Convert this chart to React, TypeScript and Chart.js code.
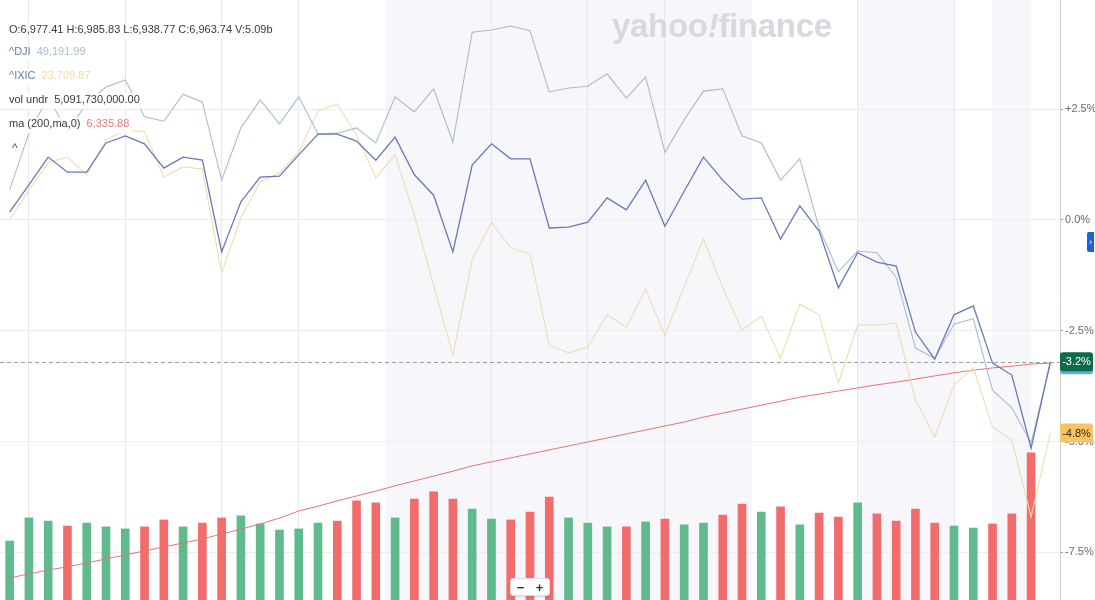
import React, { useEffect, useRef } from 'react';
import { Chart, registerables } from 'chart.js';

Chart.register(...registerables);

// 55 sessions (index-based categories)
const categories: string[] = Array.from({ length: 55 }, (_, i) => `P${i + 1}`);

// % change series
const spx = [0.18, 0.79, 1.42, 1.08, 1.08, 1.74, 1.90, 1.72, 1.17, 1.42, 1.35, -0.72, 0.41, 0.97, 0.99, 1.47, 1.94, 1.94, 1.78, 1.35, 1.87, 1.02, 0.56, -0.72, 1.24, 1.72, 1.38, 1.38, -0.18, -0.16, -0.05, 0.50, 0.23, 0.90, -0.14, 0.65, 1.42, 0.90, 0.47, 0.50, -0.43, 0.32, -0.25, -1.53, -0.74, -0.95, -1.04, -2.53, -3.14, -2.14, -1.94, -3.23, -3.50, -5.15, -3.20];
const dji = [0.68, 1.96, 2.78, 1.99, 2.64, 3.00, 3.16, 2.33, 2.23, 2.84, 2.66, 0.90, 2.08, 2.71, 2.17, 2.78, 1.94, 1.96, 2.08, 1.74, 2.78, 2.44, 2.96, 1.76, 4.24, 4.29, 4.38, 4.27, 2.89, 2.98, 3.02, 3.30, 2.75, 3.23, 1.53, 2.26, 2.91, 2.96, 1.90, 1.74, 0.90, 1.38, -0.18, -1.17, -0.70, -0.74, -1.29, -2.89, -3.12, -2.35, -2.23, -3.84, -4.24, -5.03, -3.23];
const ixic = [0.00, 0.68, 1.29, 1.42, 1.02, 1.81, 2.03, 1.99, 0.97, 1.20, 1.15, -1.20, 0.05, 0.86, 1.06, 1.53, 2.46, 2.62, 1.92, 0.95, 1.47, 0.11, -1.47, -3.05, -0.90, -0.05, -0.63, -0.77, -2.82, -3.00, -2.87, -2.14, -2.42, -1.56, -2.60, -1.51, -0.43, -1.53, -2.48, -2.17, -3.12, -1.90, -2.14, -3.68, -2.37, -2.37, -2.33, -4.06, -4.90, -3.72, -3.34, -4.67, -4.97, -6.70, -4.81];
const ma200 = [-8.08, -7.99, -7.90, -7.83, -7.74, -7.65, -7.56, -7.47, -7.38, -7.29, -7.20, -7.09, -6.98, -6.86, -6.73, -6.57, -6.46, -6.34, -6.23, -6.12, -6.00, -5.89, -5.78, -5.67, -5.55, -5.46, -5.37, -5.28, -5.19, -5.10, -5.01, -4.92, -4.83, -4.74, -4.65, -4.56, -4.45, -4.36, -4.27, -4.18, -4.09, -4.00, -3.93, -3.86, -3.79, -3.72, -3.66, -3.59, -3.52, -3.45, -3.39, -3.34, -3.30, -3.25, -3.23];

// volume (billions) and bar direction
const volume = [2.04, 2.84, 2.73, 2.56, 2.66, 2.53, 2.46, 2.53, 2.77, 2.53, 2.66, 2.84, 2.91, 2.63, 2.42, 2.46, 2.66, 2.73, 3.43, 3.36, 2.84, 3.49, 3.74, 3.49, 3.15, 2.80, 2.77, 3.04, 3.56, 2.84, 2.66, 2.53, 2.53, 2.70, 2.80, 2.60, 2.66, 2.94, 3.32, 3.04, 3.22, 2.60, 3.01, 2.87, 3.36, 2.98, 2.73, 3.15, 2.66, 2.56, 2.49, 2.63, 2.98, 5.09, null];
const volDir = ['up', 'up', 'up', 'down', 'up', 'up', 'up', 'down', 'down', 'up', 'down', 'down', 'up', 'up', 'up', 'up', 'up', 'down', 'down', 'down', 'up', 'down', 'down', 'down', 'up', 'up', 'down', 'down', 'down', 'up', 'up', 'up', 'down', 'up', 'down', 'up', 'up', 'down', 'down', 'up', 'down', 'up', 'down', 'down', 'up', 'down', 'down', 'down', 'down', 'up', 'up', 'down', 'down', 'down', 'up'];

// axis ticks, vertical gridline positions, shaded sessions
const pctTicks = [2.5, 0, -2.5, -5, -7.5];
const vGridIdx = [1, 6, 11, 15, 25, 30, 34, 44, 49];
const bands: [number, number][] = [[19.5, 38.5], [44, 49], [51, 53]];

const FONT = '"Liberation Sans", Arial, sans-serif';

const fmtPct = (v: number) => (v > 0 ? '+' : '') + v.toFixed(1) + '%';

const bandPlugin = {
  id: 'bands',
  beforeDraw(chart: any) {
    const { ctx, chartArea, scales } = chart;
    const x = scales.x;
    ctx.save();
    ctx.fillStyle = 'rgba(238,238,248,0.55)';
    bands.forEach(([a, b]) => {
      const x1 = x.getPixelForValue(a);
      const x2 = x.getPixelForValue(b);
      ctx.fillRect(x1, chartArea.top, x2 - x1, chartArea.bottom - chartArea.top);
    });
    ctx.restore();
  },
  beforeDatasetsDraw(chart: any) {
    const { ctx, chartArea, scales } = chart;
    const y = Math.round(scales.y.getPixelForValue(spx[spx.length - 1])) + 0.5;
    ctx.save();
    ctx.strokeStyle = '#9c9c9c';
    ctx.lineWidth = 1;
    ctx.setLineDash([4, 3]);
    ctx.beginPath();
    ctx.moveTo(chartArea.left, y);
    ctx.lineTo(chartArea.right, y);
    ctx.stroke();
    ctx.restore();
  },
  afterDraw(chart: any) {
    const { ctx, chartArea, scales } = chart;
    const badge = (v: number, bg: string, fg: string, strip?: string) => {
      const y = scales.y.getPixelForValue(v);
      const x0 = chartArea.right;
      const w = 33, h = 19;
      ctx.save();
      if (strip) {
        ctx.fillStyle = strip;
        ctx.beginPath();
        ctx.roundRect(x0, y - h / 2 + 3, w, h, 3);
        ctx.fill();
      }
      ctx.fillStyle = bg;
      ctx.beginPath();
      ctx.roundRect(x0, y - h / 2, w, h, 3);
      ctx.fill();
      ctx.fillStyle = fg;
      ctx.font = `11px ${FONT}`;
      ctx.textAlign = 'center';
      ctx.textBaseline = 'middle';
      ctx.fillText(fmtPct(v), x0 + w / 2, y + 0.5);
      ctx.restore();
    };
    badge(ixic[ixic.length - 1], '#f6c464', '#3b2c05');
    badge(spx[spx.length - 1], '#0d6a4d', '#ffffff', '#6aa8cf');
  },
};

const rowStyle = (top: number): React.CSSProperties => ({
  position: 'absolute',
  left: 6,
  top,
  height: 16,
  lineHeight: '16px',
  padding: '0 3px',
  background: 'rgba(255,255,255,0.86)',
  font: `11px ${FONT}`,
  color: '#3a3a3a',
  whiteSpace: 'nowrap',
});

export default function App() {
  const ref = useRef<HTMLCanvasElement>(null);
  useEffect(() => {
    document.body.style.margin = '0';
    const chart = new Chart(ref.current as HTMLCanvasElement, {
      type: 'bar',
      data: {
        labels: categories,
        datasets: [
          { type: 'line', label: '^GSPC', data: spx, borderColor: '#6878bb', borderWidth: 1.3, pointRadius: 0, tension: 0, yAxisID: 'y', order: 1 } as any,
          { type: 'line', label: '^DJI', data: dji, borderColor: '#a8bcd2', borderWidth: 1.1, pointRadius: 0, tension: 0, yAxisID: 'y', order: 2 } as any,
          { type: 'line', label: '^IXIC', data: ixic, borderColor: '#f0dcb2', borderWidth: 1.1, pointRadius: 0, tension: 0, yAxisID: 'y', order: 3 } as any,
          { type: 'line', label: 'ma (200,ma,0)', data: ma200, borderColor: '#e97373', borderWidth: 1, pointRadius: 0, tension: 0, yAxisID: 'y', order: 4 } as any,
          {
            type: 'bar', label: 'vol undr', data: volume,
            backgroundColor: volDir.map((d) => (d === 'up' ? '#5fbb8d' : '#f26c6c')),
            barThickness: 8, yAxisID: 'yv', order: 10,
          } as any,
        ],
      },
      options: {
        animation: false,
        responsive: true,
        maintainAspectRatio: false,
        layout: { padding: 0, autoPadding: false } as any,
        plugins: { legend: { display: false }, tooltip: { enabled: false } },
        scales: {
          x: {
            offset: true,
            grid: {
              offset: false,
              drawTicks: false,
              color: (c: any) => (vGridIdx.includes(c.index) ? '#e6e6ee' : 'rgba(0,0,0,0)'),
            },
            ticks: { display: false, autoSkip: false },
            border: { display: false },
          },
          y: {
            position: 'right',
            min: -8.578,
            max: 4.966,
            afterBuildTicks: (s: any) => { s.ticks = pctTicks.map((v) => ({ value: v })); },
            ticks: {
              callback: (v: any) => fmtPct(Number(v)),
              color: '#6a6a6a',
              font: { size: 11, family: FONT },
              padding: 2,
              autoSkip: false,
            },
            grid: { color: '#ededed', tickColor: '#9a9a9a', tickLength: 3 },
            border: { color: '#cdcdcd' },
            afterFit: (s: any) => { s.width = 35; s.paddingTop = 0; s.paddingBottom = 0; },
          },
          yv: { display: false, min: 0, max: 20.76 },
        },
      } as any,
      plugins: [bandPlugin],
    });
    return () => chart.destroy();
  }, []);

  return (
    <div style={{ position: 'fixed', left: 0, top: 0, width: 1095, height: 600, background: '#fff', overflow: 'hidden' }}>
      <canvas ref={ref} />
      <div style={{ position: 'absolute', left: 612, top: 7, font: `bold 33px ${FONT}`, color: '#d8d8df', letterSpacing: '-0.3px', pointerEvents: 'none' }}>
        yahoo<span style={{ fontStyle: 'italic' }}>!</span>finance
      </div>
      <div style={rowStyle(23)}>
        <span style={{ marginRight: 3 }}>O:6,977.41</span>
        <span style={{ marginRight: 3 }}>H:6,985.83</span>
        <span style={{ marginRight: 3 }}>L:6,938.77</span>
        <span style={{ marginRight: 3 }}>C:6,963.74</span>
        <span>V:5.09b</span>
      </div>
      <div style={rowStyle(45)}>
        <span style={{ color: '#6a79ad', marginRight: 6 }}>^DJI</span>
        <span style={{ color: '#a9bed4' }}>49,191.99</span>
      </div>
      <div style={rowStyle(69)}>
        <span style={{ color: '#6a79ad', marginRight: 6 }}>^IXIC</span>
        <span style={{ color: '#f2d9a8' }}>23,709.87</span>
      </div>
      <div style={rowStyle(93)}>
        <span style={{ marginRight: 6 }}>vol undr</span>
        <span>5,091,730,000.00</span>
      </div>
      <div style={rowStyle(117)}>
        <span style={{ marginRight: 6 }}>ma (200,ma,0)</span>
        <span style={{ color: '#ee7676' }}>6,335.88</span>
      </div>
      <div style={{ ...rowStyle(141), left: 9, background: 'transparent', fontSize: 12, color: '#555' }}>^</div>
      <div style={{ position: 'absolute', left: 1087, top: 232, width: 7, height: 20, background: '#1f62cf', color: '#fff', font: `9px ${FONT}`, lineHeight: '20px', textAlign: 'center', borderRadius: '2px 0 0 2px' }}>›</div>
      <div style={{ position: 'absolute', left: 510, top: 578, width: 38, height: 16, background: '#fff', border: '1px solid #dedede', borderRadius: 3, boxShadow: '0 1px 2px rgba(0,0,0,0.12)', display: 'flex', justifyContent: 'space-around', alignItems: 'center', font: `bold 13px ${FONT}`, color: '#333' }}>
        <span>−</span><span>+</span>
      </div>
    </div>
  );
}
